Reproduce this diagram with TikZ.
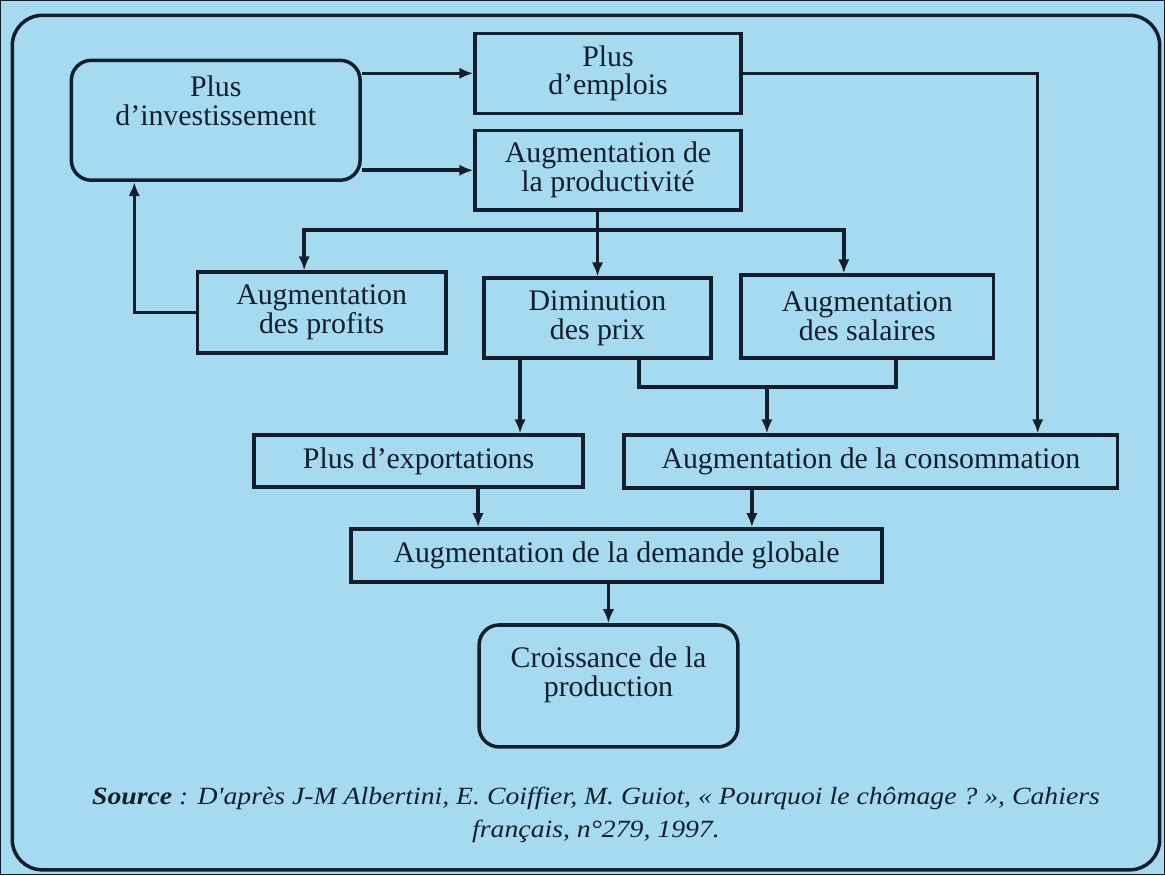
\documentclass[tikz,border=0pt]{standalone}
\usepackage{fontspec}
\setmainfont{Liberation Serif}
\newfontfamily\srcfont{Liberation Serif}[FakeStretch=1.12]
\usetikzlibrary{arrows.meta}
\definecolor{fond}{RGB}{165,218,241}
\definecolor{encre}{RGB}{20,30,45}

\begin{document}
\begin{tikzpicture}[x=0.02cm, y=-0.02cm, every path/.style={draw=encre}, every node/.style={text=encre},
	boite/.style={draw, line width=2pt, align=center, inner sep=0pt, font=\fontsize{17}{16.5}\selectfont},
	ronde/.style={boite, rounded corners=0.4cm},
	fl/.style={line width=2pt, -{Latex[length=8pt,width=6.5pt]}},
	ln/.style={line width=2pt}]
		\fill[fond] (0,0) rectangle (1165,875);
		\useasboundingbox (0,0) rectangle (1165,875);
		\draw[ln, rounded corners=0.6cm] (12,15) rectangle (1160,870);

		\node[ronde, minimum width=5.78cm, minimum height=2.4cm] (invest) at (215.5,120) {Plus\\d'investissement\\[0.2cm]};
		\node[boite, minimum width=5.32cm, minimum height=1.6cm] (emplois) at (608,73) {Plus\\d'emplois};
		\node[boite, minimum width=5.32cm, minimum height=1.6cm] (prod) at (608,170) {Augmentation de\\la productivité};
		\draw[fl] (invest.east |- emplois.west) -- (emplois.west);
		\draw[fl] (invest.east |- prod.west) -- (prod.west);

		\node[boite, minimum width=4.98cm, minimum height=1.62cm] (profits) at (321.5,312.5) {Augmentation\\des profits};
		\node[boite, minimum width=4.54cm, minimum height=1.6cm] (prix) at (597.5,318) {Diminution\\des prix};
		\node[boite, minimum width=5.06cm, minimum height=1.66cm] (salaires) at (867.5,316.5) {Augmentation\\des salaires};
		\coordinate (split) at (597.5,230);
		\draw[fl] (prod.south -| prix.north) -- (prix.north);
		\draw[fl] (split) -| ([xshift=-0.35cm]profits.north);
		\draw[fl] (split) -| ([xshift=-0.47cm]salaires.north);
		\draw[fl] (profits.west) -| ([xshift=-1.63cm]invest.south);

		\node[boite, minimum width=6.58cm, minimum height=1.04cm] (export) at (418.5,461) {Plus d'exportations};
		\node[boite, minimum width=9.88cm, minimum height=1.06cm] (conso) at (871,461.5) {Augmentation de la consommation};
		\coordinate (join) at (767,387);
		\draw[fl] ([xshift=-1.55cm]prix.south) -- ([xshift=-1.55cm]prix.south |- export.north);
		\draw[ln] ([xshift=0.83cm]prix.south) |- (join) -| ([xshift=0.57cm]salaires.south);
		\draw[fl] (join) -- (join |- conso.north);
		\draw[fl] (emplois.east) -| ([xshift=3.34cm]conso.north);

		\node[boite, minimum width=10.62cm, minimum height=1.06cm] (demande) at (616.5,555.5) {Augmentation de la demande globale};
		\node[ronde, minimum width=5.18cm, minimum height=2.44cm] (croiss) at (608.5,686) {Croissance de la\\production\\[0cm]};
		\draw[fl] ([xshift=1.19cm]export.south) -- ([xshift=1.19cm]export.south |- demande.north);
		\draw[fl] ([xshift=-2.38cm]conso.south) -- ([xshift=-2.38cm]conso.south |- demande.north);
		\draw[fl] (croiss.north |- demande.south) -- (croiss.north);

		\node[font=\srcfont\fontsize{14.1}{19}\selectfont\itshape, align=center] (source) at (596,815) {\textbf{Source} : D'après J-M Albertini, E. Coiffier, M. Guiot, «~Pourquoi le chômage~?~», Cahiers\\ français, n°279, 1997.};
\end{tikzpicture}
\end{document}
